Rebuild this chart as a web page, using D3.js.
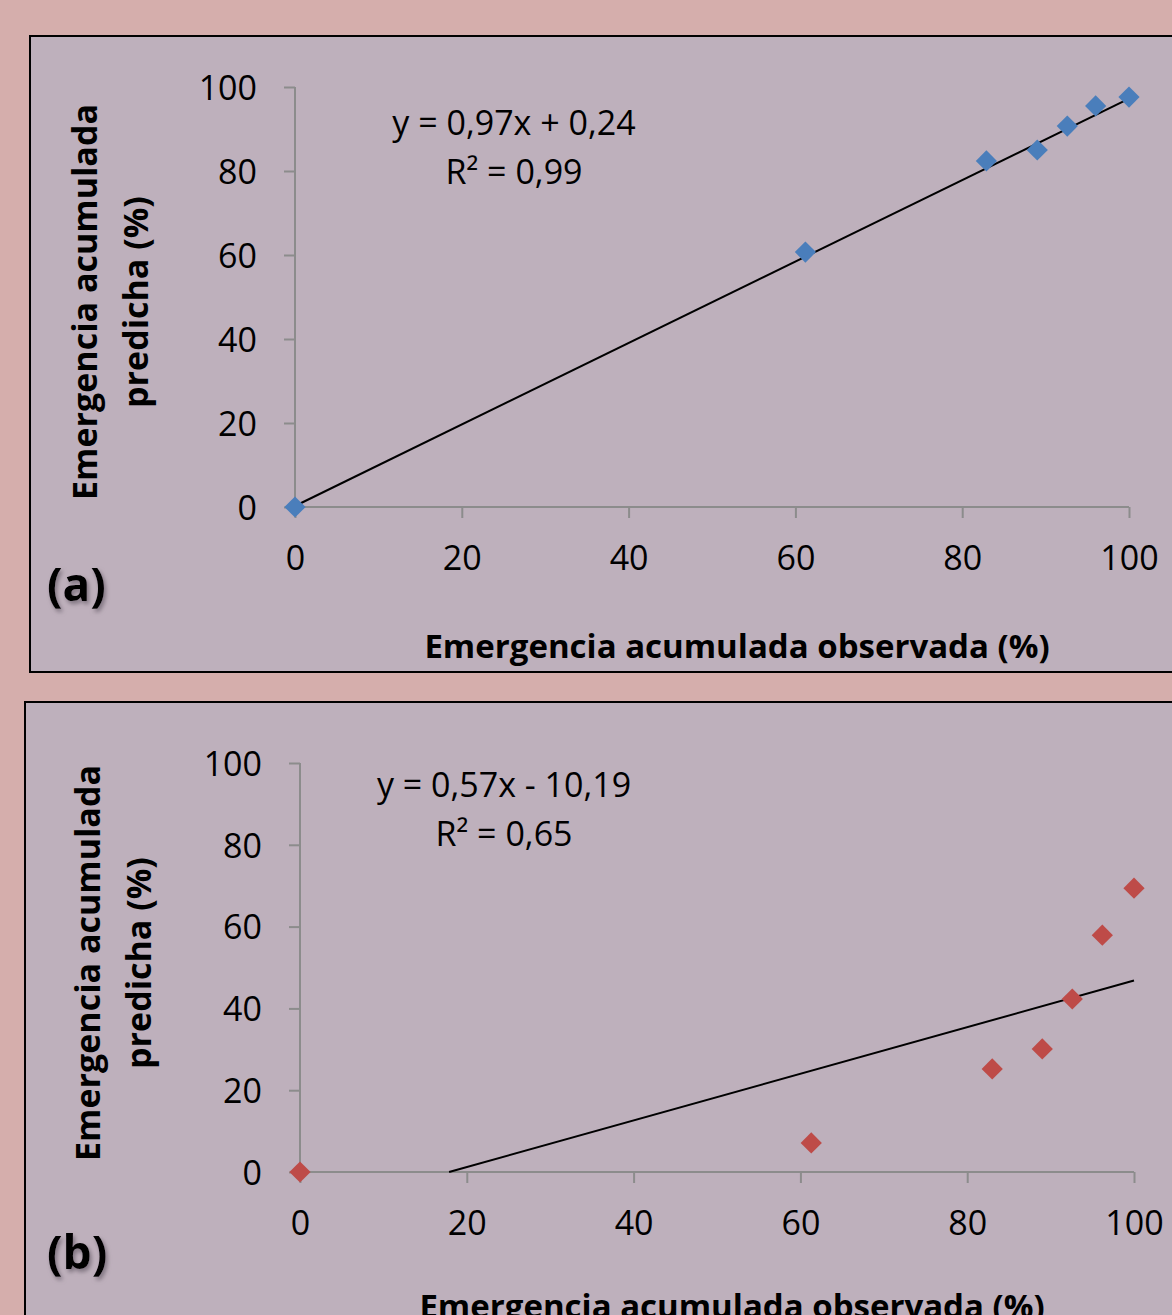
<!DOCTYPE html>
<html>
<head>
<meta charset="utf-8">
<script src="https://cdn.jsdelivr.net/npm/d3@7"></script>
<style>
  html, body { margin: 0; padding: 0; background: #d5aeac; }
  svg { display: block; }
  text { font-family: "Open Sans", Lato, sans-serif; fill: #000; }
</style>
</head>
<body>
<svg id="chart" width="1172" height="1315"></svg>
<script>
// values
const TICKS = [0, 20, 40, 60, 80, 100];
const obsA = [0, 61.2, 82.9, 89.0, 92.6, 96.0, 100];
const predA = [0, 60.7, 82.4, 85.0, 90.7, 95.5, 97.6];
const obsB = [0, 61.3, 83.0, 89.0, 92.6, 96.2, 100];
const predB = [0, 7.1, 25.2, 30.1, 42.3, 57.9, 69.4];
const fitA = [0.97, 0.24];
const fitB = [0.57, -10.19];
const eqA = ["y = 0,97x + 0,24", "R² = 0,99"];
const eqB = ["y = 0,57x - 10,19", "R² = 0,65"];
const yTitleA = ["Emergencia  acumulada", "predicha (%)"];
const yTitleB = ["Emergencia acumulada", "predicha  (%)"];
const xTitle = "Emergencia acumulada observada (%)";

const svg = d3.select("#chart");

const defs = svg.append("defs");
const f = defs.append("filter").attr("id", "shadow").attr("x", "-20%").attr("y", "-20%")
  .attr("width", "160%").attr("height", "160%");
f.append("feDropShadow").attr("dx", 2).attr("dy", 3).attr("stdDeviation", 2)
  .attr("flood-color", "#6e6470").attr("flood-opacity", 0.8);

function panel(cfg) {
  const g = svg.append("g");
  g.append("rect")
    .attr("x", cfg.box[0]).attr("y", cfg.box[1])
    .attr("width", cfg.box[2]).attr("height", cfg.box[3])
    .attr("fill", "#beb0bc").attr("stroke", "#000").attr("stroke-width", 2);

  const x = d3.scaleLinear().domain([0, 100]).range(cfg.xr);
  const y = d3.scaleLinear().domain([0, 100]).range(cfg.yr);

  const xAxis = g.append("g").attr("transform", `translate(0,${y(0)})`)
    .call(d3.axisBottom(x).tickValues(TICKS).tickSize(11).tickPadding(28));
  const yAxis = g.append("g").attr("transform", `translate(${x(0)},0)`)
    .call(d3.axisLeft(y).tickValues(TICKS).tickSize(11).tickPadding(27));
  [xAxis, yAxis].forEach(a => {
    a.selectAll("path, line").attr("stroke", "#8c8c8c").attr("stroke-width", 2);
    a.selectAll("text").style("font-size", "34px").attr("fill", "#000");
  });
  xAxis.select(".domain").attr("d", `M${x(0)},0H${x(100)}`);
  yAxis.select(".domain").attr("d", `M0,${y(0)}V${y(100)}`);
  yAxis.selectAll("text").attr("dy", "0.36em");

  // trendline clipped to the plot area
  const [m, b] = cfg.fit;
  const x0 = b < 0 ? -b / m : 0;
  g.append("line")
    .attr("x1", x(x0)).attr("y1", y(m * x0 + b))
    .attr("x2", x(100)).attr("y2", y(m * 100 + b))
    .attr("stroke", "#000").attr("stroke-width", 2);

  g.selectAll(".pt").data(cfg.obs.map((v, i) => [v, cfg.pred[i]])).join("path")
    .attr("class", "pt")
    .attr("d", d3.symbol(d3.symbolSquare, 225)())
    .attr("transform", d => `translate(${x(d[0])},${y(d[1])}) rotate(45)`)
    .attr("fill", cfg.color);

  g.selectAll(".eq").data(cfg.eq).join("text")
    .attr("x", cfg.eqPos[0]).attr("y", (d, i) => cfg.eqPos[1] + i * 49)
    .attr("text-anchor", "middle").style("font-size", "34px")
    .text(d => d);

  g.selectAll(".yt").data(cfg.yTitle).join("text")
    .attr("transform", (d, i) => `translate(${cfg.yTitlePos[0] + i * 51},${cfg.yTitlePos[1]}) rotate(-90)`)
    .attr("text-anchor", "middle").style("font-size", "34px").style("font-weight", "bold")
    .text(d => d);

  g.append("text")
    .attr("x", cfg.xTitlePos[0]).attr("y", cfg.xTitlePos[1])
    .attr("text-anchor", "middle").style("font-size", "33px").style("font-weight", "bold")
    .text(xTitle);

  g.append("text")
    .attr("x", cfg.tag[0]).attr("y", cfg.tag[1])
    .style("font-size", "46px").style("font-weight", "bold")
    .attr("fill", "#24221a").attr("filter", "url(#shadow)")
    .text(cfg.tag[2]);
}

panel({
  box: [30, 36, 1160, 636],
  xr: [295, 1129], yr: [507, 87],
  obs: obsA, pred: predA, fit: fitA, color: "#4a7ebb",
  eq: eqA, eqPos: [514, 135],
  yTitle: yTitleA, yTitlePos: [97, 302],
  xTitlePos: [737, 658],
  tag: [47, 601, "(a)"]
});

panel({
  box: [25, 702, 1160, 640],
  xr: [300, 1134], yr: [1172, 763],
  obs: obsB, pred: predB, fit: fitB, color: "#be4b48",
  eq: eqB, eqPos: [504, 797],
  yTitle: yTitleB, yTitlePos: [100, 963],
  xTitlePos: [732, 1318],
  tag: [47, 1269, "(b)"]
});
</script>
</body>
</html>
